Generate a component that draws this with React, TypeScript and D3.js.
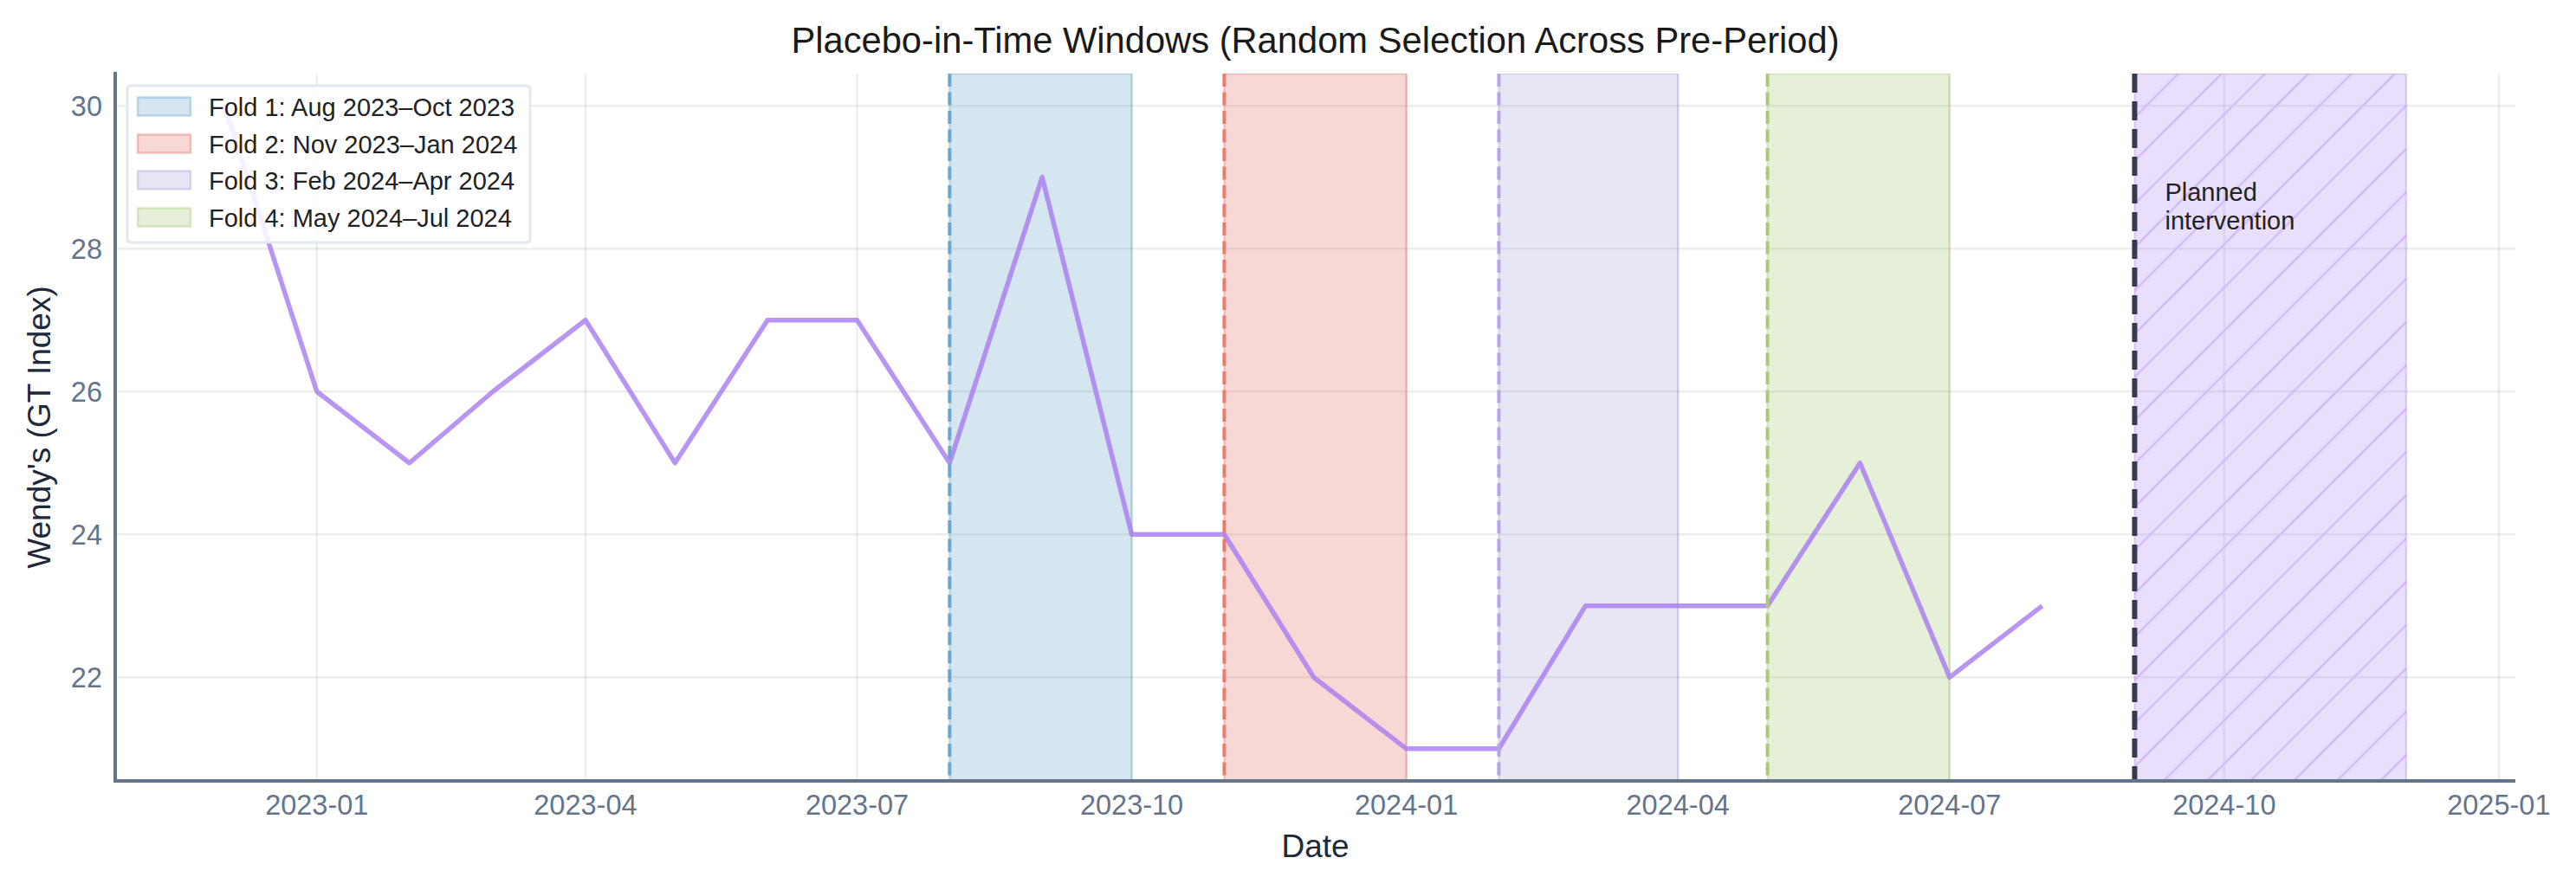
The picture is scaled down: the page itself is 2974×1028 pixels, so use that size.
import React from "react";
import * as d3 from "d3";

const months = [
  "2022-12-01", "2023-01-01", "2023-02-01", "2023-03-01", "2023-04-01", "2023-05-01",
  "2023-06-01", "2023-07-01", "2023-08-01", "2023-09-01", "2023-10-01", "2023-11-01",
  "2023-12-01", "2024-01-01", "2024-02-01", "2024-03-01", "2024-04-01", "2024-05-01",
  "2024-06-01", "2024-07-01", "2024-08-01",
];
const values = [30, 26, 25, 26, 27, 25, 27, 27, 25, 29, 24, 24, 22, 21, 21, 23, 23, 23, 25, 22, 23];

const foldLabels = [
  "Fold 1: Aug 2023–Oct 2023",
  "Fold 2: Nov 2023–Jan 2024",
  "Fold 3: Feb 2024–Apr 2024",
  "Fold 4: May 2024–Jul 2024",
];
const foldStarts = ["2023-08-01", "2023-11-01", "2024-02-01", "2024-05-01"];
const foldEnds = ["2023-10-01", "2024-01-01", "2024-04-01", "2024-07-01"];
const foldColors = ["#579bc3", "#df6357", "#a397d7", "#9bc363"];
const foldLineColors = ["#6aa6cf", "#ee7b6a", "#b3a6e3", "#acc97a"];

const interventionStart = "2024-09-01";
const interventionEnd = "2024-12-01";
const interventionLabel = ["Planned", "intervention"];

const xTicks = ["2023-01-01", "2023-04-01", "2023-07-01", "2023-10-01", "2024-01-01", "2024-04-01", "2024-07-01", "2024-10-01", "2025-01-01"];
const yTicks = [22, 24, 26, 28, 30];

const title = "Placebo-in-Time Windows (Random Selection Across Pre-Period)";
const xLabel = "Date";
const yLabel = "Wendy's (GT Index)";

const W = 2974;
const H = 1028;
const left = 133, right = 2904, top = 85, bottom = 902;
const FONT = "'Liberation Sans', Arial, Helvetica, sans-serif";
const SLATE = "#64748b";

const parse = (s: string) => new Date(s + "T00:00:00Z");

export default function App() {
  const dates = months.map(parse);
  const x0 = +dates[0];
  const x1 = +parse(interventionEnd);
  const xm = (x1 - x0) * 0.05;
  const x = d3.scaleUtc().domain([new Date(x0 - xm), new Date(x1 + xm)]).range([left, right]);
  const [vmin, vmax] = d3.extent(values) as [number, number];
  const ym = (vmax - vmin) * 0.05;
  const y = d3.scaleLinear().domain([vmin - ym, vmax + ym]).range([bottom, top]);

  const line = d3
    .line<number>()
    .x((_, i) => x(dates[i]))
    .y((v) => y(v));

  const fmt = d3.utcFormat("%Y-%m");
  const iS = x(parse(interventionStart));
  const iE = x(parse(interventionEnd));

  const legX = 147, legY = 99, legW = 465, legH = 181;
  const rowY = [123, 166, 208, 251];

  return (
    <svg width={W} height={H} style={{ position: "absolute", left: 0, top: 0, background: "#fff" }}>
      <defs>
        <pattern id="hatch" patternUnits="userSpaceOnUse" width={50} height={50}>
          <line x1={-5} y1={55} x2={55} y2={-5} stroke="#d3bef8" strokeWidth={2.6} />
          <line x1={-30} y1={30} x2={30} y2={-30} stroke="#d3bef8" strokeWidth={2.6} />
          <line x1={20} y1={80} x2={80} y2={20} stroke="#d3bef8" strokeWidth={2.6} />
        </pattern>
        <clipPath id="plot">
          <rect x={left} y={top} width={right - left} height={bottom - top} />
        </clipPath>
      </defs>
      <rect x={0} y={0} width={W} height={H} fill="#fff" />

      {/* grid */}
      {yTicks.map((t) => (
        <line key={"gy" + t} x1={left} x2={right} y1={y(t)} y2={y(t)} stroke="#000" strokeOpacity={0.07} strokeWidth={2.5} />
      ))}
      {xTicks.map((t) => (
        <line key={"gx" + t} x1={x(parse(t))} x2={x(parse(t))} y1={top} y2={bottom} stroke="#000" strokeOpacity={0.07} strokeWidth={2.5} />
      ))}

      {/* fold spans */}
      <g clipPath="url(#plot)">
        {foldStarts.map((s, i) => {
          const a = x(parse(s));
          const b = x(parse(foldEnds[i]));
          return (
            <g key={"f" + i}>
              <rect x={a} y={top} width={b - a} height={bottom - top} fill={foldColors[i]} fillOpacity={0.25} stroke={foldColors[i]} strokeOpacity={0.3} strokeWidth={2.5} />
            </g>
          );
        })}
        {/* intervention */}
        <rect x={iS} y={top} width={iE - iS} height={bottom - top} fill="#a77ff3" fillOpacity={0.25} />
        <rect x={iS} y={top} width={iE - iS} height={bottom - top} fill="url(#hatch)" stroke="#a77ff3" strokeOpacity={0.3} strokeWidth={2.5} />
      </g>

      {/* data line */}
      <path d={line(values) || ""} fill="none" stroke="#a77bf0" strokeOpacity={0.8} strokeWidth={5.5} strokeLinejoin="round" />

      {/* fold start dashed lines */}
      {foldStarts.map((s, i) => (
        <line key={"fd" + i} x1={x(parse(s))} x2={x(parse(s))} y1={top} y2={bottom} stroke={foldLineColors[i]} strokeWidth={4} strokeDasharray="15 6.5" />
      ))}

      {/* intervention dashed */}
      <line x1={iS} x2={iS} y1={top} y2={bottom} stroke="#363a50" strokeWidth={6} strokeDasharray="22 10" />
      <text x={iS + 35} y={232} fontFamily={FONT} fontSize={29} fill="#222">
        {interventionLabel[0]}
      </text>
      <text x={iS + 35} y={265} fontFamily={FONT} fontSize={29} fill="#222">
        {interventionLabel[1]}
      </text>

      {/* spines */}
      <line x1={left} x2={left} y1={top - 2} y2={bottom + 2} stroke={SLATE} strokeWidth={4} />
      <line x1={left - 2} x2={right} y1={bottom} y2={bottom} stroke={SLATE} strokeWidth={4} />

      {/* y ticks */}
      {yTicks.map((t) => (
        <text key={"yt" + t} x={118} y={y(t) + 11.5} textAnchor="end" fontFamily={FONT} fontSize={32.5} fill={SLATE}>
          {t}
        </text>
      ))}
      {/* x ticks */}
      {xTicks.map((t) => (
        <text key={"xt" + t} x={x(parse(t))} y={941} textAnchor="middle" fontFamily={FONT} fontSize={32.5} fill={SLATE}>
          {fmt(parse(t))}
        </text>
      ))}

      {/* labels */}
      <text x={(left + right) / 2} y={990} textAnchor="middle" fontFamily={FONT} fontSize={37} fill="#1e293b">
        {xLabel}
      </text>
      <text transform={`translate(58, ${(top + bottom) / 2}) rotate(-90)`} textAnchor="middle" fontFamily={FONT} fontSize={37} fill="#1e293b">
        {yLabel}
      </text>
      <text x={(left + right) / 2} y={61} textAnchor="middle" fontFamily={FONT} fontSize={41.7} fill="#1a1a1a">
        {title}
      </text>

      {/* legend */}
      <rect x={legX} y={legY} width={legW} height={legH} rx={4} fill="#fff" fillOpacity={0.85} stroke="#e2e8f0" strokeWidth={3} />
      {foldLabels.map((lab, i) => (
        <g key={"lg" + i}>
          <rect x={159} y={rowY[i] - 10.5} width={61} height={21} fill="#fff" />
          <rect x={159} y={rowY[i] - 10.5} width={61} height={21} fill={foldColors[i]} fillOpacity={0.25} stroke={foldColors[i]} strokeOpacity={0.35} strokeWidth={2.5} />
          <text x={241} y={rowY[i] + 10.5} fontFamily={FONT} fontSize={29} fill="#222">
            {lab}
          </text>
        </g>
      ))}
    </svg>
  );
}
